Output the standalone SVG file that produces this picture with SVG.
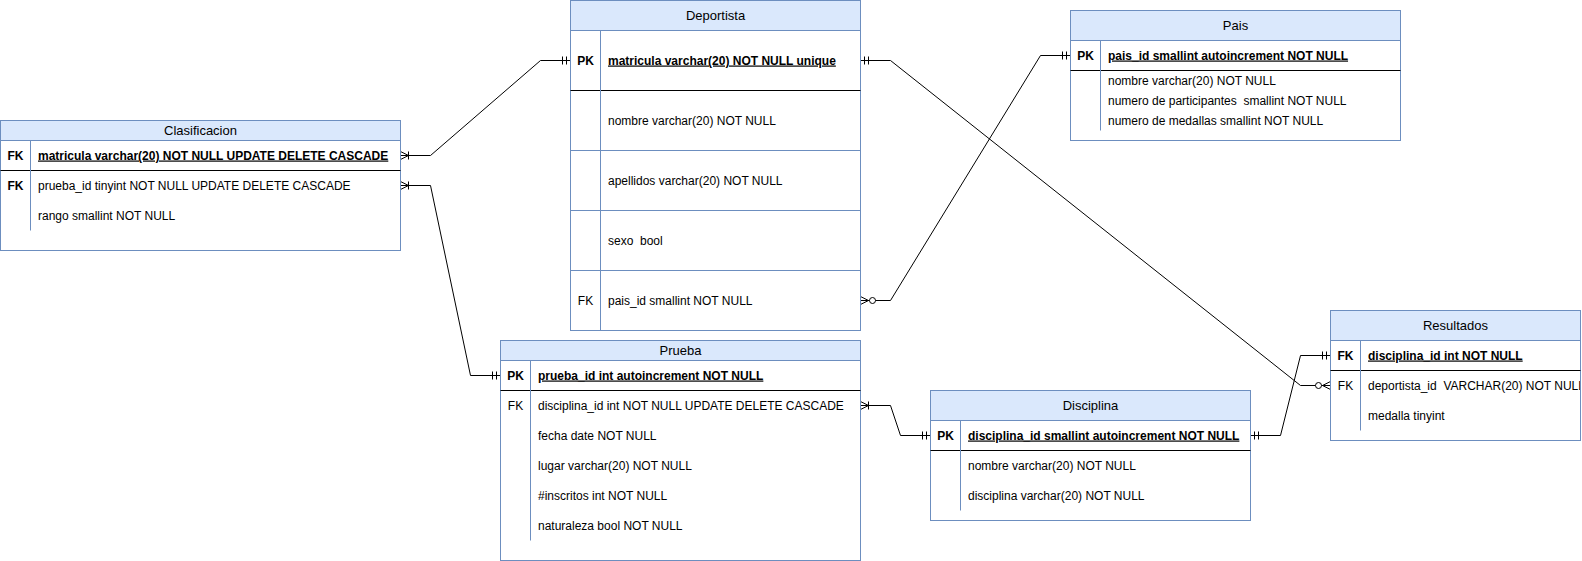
<svg xmlns="http://www.w3.org/2000/svg" width="1582" height="561" viewBox="0 0 1582 561">
<style>
.box{fill:#ffffff;stroke:#6c8ebf;stroke-width:1}
.hdr{fill:#dae8fc;stroke:#6c8ebf;stroke-width:1}
.bl{stroke:#6c8ebf;stroke-width:1;fill:none}
.sep{stroke:#000000;stroke-width:1;fill:none}
text{font-family:"Liberation Sans",Arial,Helvetica,sans-serif;font-size:12px;fill:#000000}
.c{text-anchor:middle}
.ttl{text-anchor:middle;font-size:13px}
.b{font-weight:bold}
.u{text-decoration:underline}
.conn{fill:none;stroke:#000000;stroke-width:1}
.mk{fill:none;stroke:#000000;stroke-width:1}
</style>
<defs>
<marker id="mOne" markerUnits="userSpaceOnUse" viewBox="-14 -6 16 12" refX="0" refY="0" markerWidth="16" markerHeight="12" orient="auto-start-reverse" overflow="visible">
<path class="mk" d="M-4,-4V4M-8,-4V4"/>
</marker>
<marker id="mOneMany" markerUnits="userSpaceOnUse" viewBox="-14 -6 16 12" refX="0" refY="0" markerWidth="16" markerHeight="12" orient="auto-start-reverse" overflow="visible">
<path class="mk" d="M-8,-4V4M0,-4L-8,0L0,4"/>
</marker>
<marker id="mZeroMany" markerUnits="userSpaceOnUse" viewBox="-18 -6 20 12" refX="0" refY="0" markerWidth="20" markerHeight="12" orient="auto-start-reverse" overflow="visible">
<circle cx="-12" cy="0" r="3" fill="#ffffff" stroke="#000000" stroke-width="1"/>
<path class="mk" d="M0,-4L-8,0L0,4"/>
</marker>
<clipPath id="clipRes"><rect x="1331" y="341" width="249" height="99"/></clipPath>
</defs>

<g id="connectors">
<path class="conn" d="M400.5,155.5H430.5L540.5,60.5H570.5" marker-start="url(#mOneMany)" marker-end="url(#mOne)"/>
<path class="conn" d="M400.5,185.5H430.5L470.5,375.5H500.5" marker-start="url(#mOneMany)" marker-end="url(#mOne)"/>
<path class="conn" d="M860.5,60.5H890.5L1300.5,385.5H1330.5" marker-start="url(#mOne)" marker-end="url(#mZeroMany)"/>
<path class="conn" d="M860.5,300.5H890.5L1040.5,55.5H1070.5" marker-start="url(#mZeroMany)" marker-end="url(#mOne)"/>
<path class="conn" d="M860.5,405.5H890.5L900.5,435.5H930.5" marker-start="url(#mOneMany)" marker-end="url(#mOne)"/>
<path class="conn" d="M1250.5,435.5H1280.5L1300.5,355.5H1330.5" marker-start="url(#mOne)" marker-end="url(#mOne)"/>
</g>

<g id="clasificacion">
<rect class="box" x="0.5" y="120.5" width="400" height="130"/>
<rect class="hdr" x="0.5" y="120.5" width="400" height="20"/>
<line class="sep" x1="0.5" y1="170.5" x2="400.5" y2="170.5"/>
<line class="bl" x1="30.5" y1="140.5" x2="30.5" y2="230.5"/>
<text class="ttl" x="200.5" y="135">Clasificacion</text>
<text class="c b" x="15.5" y="159.5">FK</text>
<text class="b u" x="38" y="159.5">matricula varchar(20) NOT NULL UPDATE DELETE CASCADE</text>
<text class="c b" x="15.5" y="189.5">FK</text>
<text x="38" y="189.5">prueba_id tinyint NOT NULL UPDATE DELETE CASCADE</text>
<text x="38" y="219.5">rango smallint NOT NULL</text>
</g>

<g id="deportista">
<rect class="box" x="570.5" y="0.5" width="290" height="330"/>
<rect class="hdr" x="570.5" y="0.5" width="290" height="30"/>
<line class="sep" x1="570.5" y1="90.5" x2="860.5" y2="90.5"/>
<line class="bl" x1="570.5" y1="150.5" x2="860.5" y2="150.5"/>
<line class="bl" x1="570.5" y1="210.5" x2="860.5" y2="210.5"/>
<line class="bl" x1="570.5" y1="270.5" x2="860.5" y2="270.5"/>
<line class="bl" x1="600.5" y1="30.5" x2="600.5" y2="330.5"/>
<text class="ttl" x="715.5" y="20">Deportista</text>
<text class="c b" x="585.5" y="64.5">PK</text>
<text class="b u" x="608" y="64.5">matricula varchar(20) NOT NULL unique</text>
<text x="608" y="124.5">nombre varchar(20) NOT NULL</text>
<text x="608" y="184.5">apellidos varchar(20) NOT NULL</text>
<text x="608" y="244.5" xml:space="preserve">sexo  bool</text>
<text class="c" x="585.5" y="304.5">FK</text>
<text x="608" y="304.5">pais_id smallint NOT NULL</text>
</g>

<g id="pais">
<rect class="box" x="1070.5" y="10.5" width="330" height="130"/>
<rect class="hdr" x="1070.5" y="10.5" width="330" height="30"/>
<line class="sep" x1="1070.5" y1="70.5" x2="1400.5" y2="70.5"/>
<line class="bl" x1="1100.5" y1="40.5" x2="1100.5" y2="130.5"/>
<text class="ttl" x="1235.5" y="30">Pais</text>
<text class="c b" x="1085.5" y="59.5">PK</text>
<text class="b u" x="1108" y="59.5">pais_id smallint autoincrement NOT NULL</text>
<text x="1108" y="84.5">nombre varchar(20) NOT NULL</text>
<text x="1108" y="104.5" xml:space="preserve">numero de participantes  smallint NOT NULL</text>
<text x="1108" y="124.5">numero de medallas smallint NOT NULL</text>
</g>

<g id="prueba">
<rect class="box" x="500.5" y="340.5" width="360" height="220"/>
<rect class="hdr" x="500.5" y="340.5" width="360" height="20"/>
<line class="sep" x1="500.5" y1="390.5" x2="860.5" y2="390.5"/>
<line class="bl" x1="530.5" y1="360.5" x2="530.5" y2="540.5"/>
<text class="ttl" x="680.5" y="355">Prueba</text>
<text class="c b" x="515.5" y="379.5">PK</text>
<text class="b u" x="538" y="379.5">prueba_id int autoincrement NOT NULL</text>
<text class="c" x="515.5" y="409.5">FK</text>
<text x="538" y="409.5">disciplina_id int NOT NULL UPDATE DELETE CASCADE</text>
<text x="538" y="439.5">fecha date NOT NULL</text>
<text x="538" y="469.5">lugar varchar(20) NOT NULL</text>
<text x="538" y="499.5">#inscritos int NOT NULL</text>
<text x="538" y="529.5">naturaleza bool NOT NULL</text>
</g>

<g id="disciplina">
<rect class="box" x="930.5" y="390.5" width="320" height="130"/>
<rect class="hdr" x="930.5" y="390.5" width="320" height="30"/>
<line class="sep" x1="930.5" y1="450.5" x2="1250.5" y2="450.5"/>
<line class="bl" x1="960.5" y1="420.5" x2="960.5" y2="510.5"/>
<text class="ttl" x="1090.5" y="410">Disciplina</text>
<text class="c b" x="945.5" y="439.5">PK</text>
<text class="b u" x="968" y="439.5">disciplina_id smallint autoincrement NOT NULL</text>
<text x="968" y="469.5">nombre varchar(20) NOT NULL</text>
<text x="968" y="499.5">disciplina varchar(20) NOT NULL</text>
</g>

<g id="resultados">
<rect class="box" x="1330.5" y="310.5" width="250" height="130"/>
<rect class="hdr" x="1330.5" y="310.5" width="250" height="30"/>
<line class="sep" x1="1330.5" y1="370.5" x2="1580.5" y2="370.5"/>
<line class="bl" x1="1360.5" y1="340.5" x2="1360.5" y2="430.5"/>
<text class="ttl" x="1455.5" y="330">Resultados</text>
<text class="c b" x="1345.5" y="359.5">FK</text>
<text class="b u" x="1368" y="359.5">disciplina_id int NOT NULL</text>
<text class="c" x="1345.5" y="389.5">FK</text>
<g clip-path="url(#clipRes)">
<text x="1368" y="389.5" xml:space="preserve">deportista_id  VARCHAR(20) NOT NULL</text>
</g>
<text x="1368" y="419.5">medalla tinyint</text>
</g>
</svg>
